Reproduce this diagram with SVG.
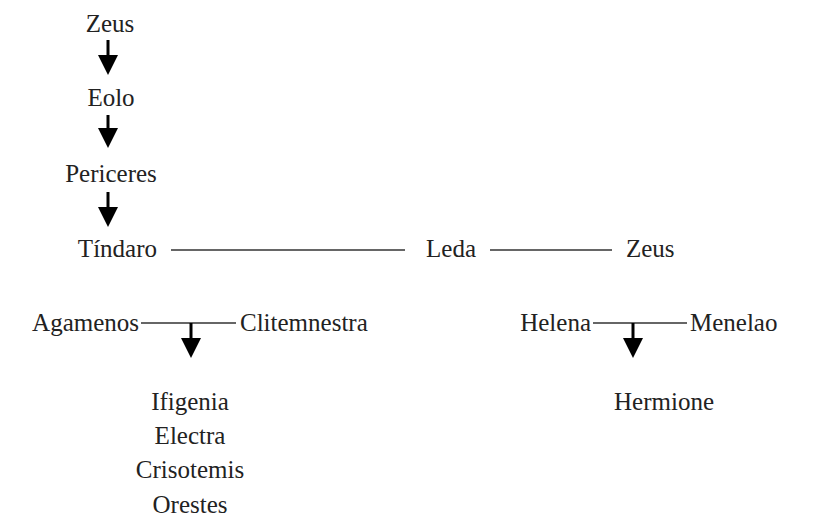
<svg xmlns="http://www.w3.org/2000/svg" width="833" height="529" viewBox="0 0 833 529">
  <style>
    text { font-family: "Liberation Serif", Tinos, "Times New Roman", "DejaVu Serif", serif; font-size: 25px; fill: #222; }
    .c { text-anchor: middle; }
    .e { text-anchor: end; }
    .s { text-anchor: start; }
    .link { stroke: #333; stroke-width: 1.3; fill: none; }
    .shaft { stroke: #000; stroke-width: 3; fill: none; }
    .head { fill: #000; }
  </style>
  <rect width="833" height="529" fill="#fff"/>

  <g id="connectors">
    <!-- ancestry arrows -->
    <line class="shaft" x1="108" y1="40" x2="108" y2="58"/>
    <polygon class="head" points="98,55 118,55 108,75"/>
    <line class="shaft" x1="108" y1="115" x2="108" y2="131"/>
    <polygon class="head" points="98,128 118,128 108,148"/>
    <line class="shaft" x1="108" y1="192" x2="108" y2="210"/>
    <polygon class="head" points="98,207 118,207 108,227"/>
    <!-- unions -->
    <line class="link" x1="171" y1="250" x2="405" y2="250"/>
    <line class="link" x1="490" y1="250" x2="612" y2="250"/>
    <line class="link" x1="141" y1="323" x2="236" y2="323"/>
    <line class="link" x1="593" y1="323" x2="687" y2="323"/>
    <!-- offspring arrows -->
    <line class="shaft" x1="191" y1="323" x2="191" y2="341"/>
    <polygon class="head" points="181,338 201,338 191,358"/>
    <line class="shaft" x1="633" y1="323" x2="633" y2="341"/>
    <polygon class="head" points="623,338 643,338 633,358"/>
  </g>

  <g id="zeus1"><text class="c" x="110" y="32">Zeus</text></g>
  <g id="eolo"><text class="c" x="111" y="106">Eolo</text></g>
  <g id="periceres"><text class="c" x="111" y="182">Periceres</text></g>
  <g id="tindaro"><text class="e" x="157" y="257">Tíndaro</text></g>
  <g id="leda"><text class="c" x="451" y="257">Leda</text></g>
  <g id="zeus2"><text class="s" x="626" y="257">Zeus</text></g>
  <g id="agamenos"><text class="e" x="139" y="331">Agamenos</text></g>
  <g id="clitemnestra"><text class="s" x="240" y="331">Clitemnestra</text></g>
  <g id="helena"><text class="e" x="591" y="331">Helena</text></g>
  <g id="menelao"><text class="s" x="690" y="331">Menelao</text></g>
  <g id="hijos">
    <text class="c" x="190" y="410">Ifigenia</text>
    <text class="c" x="190" y="444">Electra</text>
    <text class="c" x="190" y="478">Crisotemis</text>
    <text class="c" x="190" y="513">Orestes</text>
  </g>
  <g id="hermione"><text class="c" x="664" y="410">Hermione</text></g>
</svg>
